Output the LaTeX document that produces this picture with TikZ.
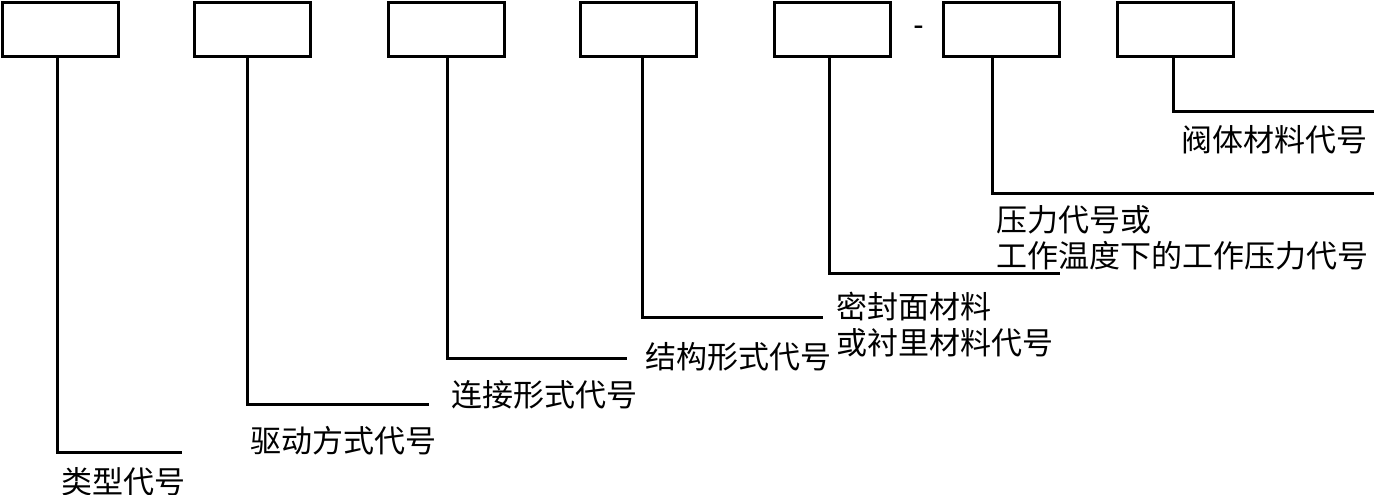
\documentclass[tikz,border=0pt]{standalone}
\usepackage{fontspec}
\newfontfamily\cjk{Noto Sans CJK SC}
\tikzset{
  codebox/.style={draw, line width=3pt, minimum width=116pt, minimum height=54pt,
    inner sep=0pt},
  lead/.style={line width=3pt},
  lab/.style={font=\cjk\fontsize{31pt}{36.5pt}\selectfont, align=left, inner sep=0pt,
    anchor=base west},
}
\begin{document}
\begin{tikzpicture}[x=1pt, y=-1pt]
\useasboundingbox (0,0) rectangle (1374,495);

% The code boxes, read left to right; a dash stands between the 5th and 6th.
\node[codebox] (b1) at (60, 29.5) {};
\node[codebox] (b2) at (252.5, 29.5) {};
\node[codebox] (b3) at (446, 29.5) {};
\node[codebox] (b4) at (638.5, 29.5) {};
\node[codebox] (b5) at (832.5, 29.5) {};
\node[codebox] (b6) at (1001, 29.5) {};
\node[codebox] (b7) at (1175, 29.5) {};
\node[font=\fontspec{Liberation Sans}\fontsize{31pt}{36pt}\selectfont, inner sep=0pt]
  (dash) at (918.5, 31) {-};

% Where each leader line turns and ends.
\coordinate (e1) at (182, 452);
\coordinate (e2) at (429, 404);
\coordinate (e3) at (627, 358);
\coordinate (e4) at (823, 317);
\coordinate (e5) at (1060, 273);
\coordinate (e6) at (1374, 193);
\coordinate (e7) at (1374, 111);

\draw[lead] ([xshift=-3pt]b1.south) |- (e1);
\draw[lead] ([xshift=-5.5pt]b2.south) |- (e2);
\draw[lead] ([xshift=1pt]b3.south) |- (e3);
\draw[lead] ([xshift=3.5pt]b4.south) |- (e4);
\draw[lead] ([xshift=-3.5pt]b5.south) |- (e5);
\draw[lead] ([xshift=-9pt]b6.south) |- (e6);
\draw[lead] ([xshift=-2pt]b7.south) |- (e7);

% The meaning of each box, under its leader (base = last line).
\node[lab] (t1) at (61.5, 493) {类型代号};
\node[lab] (t2) at (250.5, 452) {驱动方式代号};
\node[lab] (t3) at (451.5, 406) {连接形式代号};
\node[lab] (t4) at (645.5, 368) {结构形式代号};
\node[lab] (t5) at (836.5, 354.5) {密封面材料\\或衬里材料代号};
\node[lab] (t6) at (996.5, 267.5) {压力代号或\\工作温度下的工作压力代号};
\node[lab] (t7) at (1181.5, 151) {阀体材料代号};

\end{tikzpicture}
\end{document}
